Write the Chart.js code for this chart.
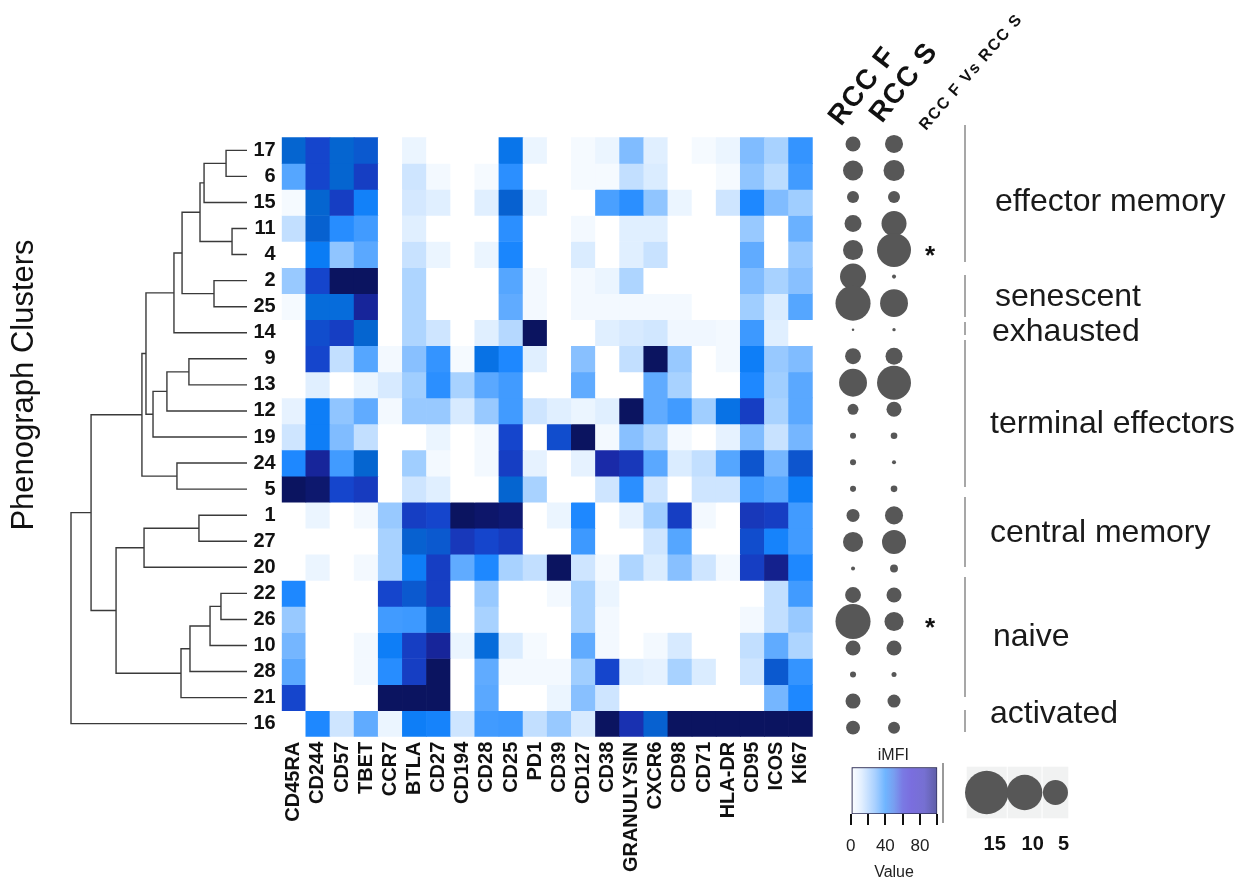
<!DOCTYPE html>
<html><head><meta charset="utf-8">
<script src="https://cdn.jsdelivr.net/npm/chart.js@4.4.1/dist/chart.umd.min.js"></script>
<style>
html,body{margin:0;padding:0;background:#fff;}
body{width:1248px;height:882px;position:relative;overflow:hidden;}
canvas{position:absolute;}
.vsep{position:absolute;width:1.5px;background:#9a9a9a;}
</style></head>
<body>
<canvas id="dend" width="260" height="882" style="left:0;top:0"></canvas>
<canvas id="heat" width="600" height="882" style="left:230px;top:0"></canvas>
<canvas id="bub" width="433" height="882" style="left:815px;top:0"></canvas>
<canvas id="cleg" width="115" height="137" style="left:835px;top:745px"></canvas>
<canvas id="sleg" width="145" height="137" style="left:945px;top:745px"></canvas>
<div class="vsep" style="left:942px;top:763px;height:60px"></div>
<script>
// ---------------- DATA ----------------
const markers = ['CD45RA','CD244','CD57','TBET','CCR7','BTLA','CD27','CD194','CD28','CD25','PD1','CD39','CD127','CD38','GRANULYSIN','CXCR6','CD98','CD71','HLA-DR','CD95','ICOS','KI67'];
const clusters = ['17','6','15','11','4','2','25','14','9','13','12','19','24','5','1','27','20','22','26','10','28','21','16'];

// iMFI per cluster, in marker order
const c17 = [72,80,72,75,0,8,0,0,0,67,8,0,4,8,40,12,0,4,8,40,30,55];
const c6  = [48,80,72,82,0,18,5,0,4,57,0,0,4,4,22,14,0,0,4,36,24,52];
const c15 = [4,72,82,63,0,16,12,0,12,73,8,0,0,50,57,36,8,0,18,60,40,32];
const c11 = [22,73,58,52,0,12,0,0,0,57,0,0,5,0,12,12,0,0,0,34,0,44];
const c4  = [0,65,36,47,0,20,8,0,8,61,0,0,14,0,12,20,0,0,0,46,0,34];
const c2  = [34,80,100,100,0,28,0,0,0,48,5,0,5,8,28,0,0,0,0,40,30,38];
const c25 = [4,70,70,90,0,28,0,0,0,46,5,0,5,5,5,5,5,0,0,32,14,48];
const c14 = [0,78,82,72,0,28,18,0,12,26,100,0,0,12,15,17,6,6,5,53,12,0];
const c9  = [0,80,22,48,5,38,55,4,68,60,12,0,38,0,22,100,34,0,5,64,34,40];
const c13 = [0,12,0,8,15,32,57,30,47,52,0,0,46,0,0,46,30,0,0,60,32,47];
const c12 = [10,64,36,46,5,34,34,15,34,52,18,12,8,12,100,46,52,32,68,82,30,47];
const c19 = [18,64,40,22,0,0,8,0,5,80,0,78,100,5,38,28,5,0,10,40,20,42];
const c24 = [60,90,52,72,0,32,5,0,5,82,10,0,10,88,84,47,14,22,48,76,42,76];
const c5  = [100,97,80,83,0,18,12,0,0,72,30,0,0,18,57,18,0,18,18,52,48,64];
const c1  = [0,8,0,5,34,82,80,100,98,96,0,8,60,0,10,32,82,5,0,84,82,52];
const c27 = [0,0,0,0,30,73,75,84,80,83,0,0,53,0,0,18,48,0,0,78,62,52];
const c20 = [0,8,0,5,30,64,82,46,60,30,22,100,18,5,28,14,38,18,5,82,92,60];
const c22 = [60,0,0,0,80,75,82,0,34,0,0,5,30,8,0,0,0,0,0,0,22,52];
const c26 = [34,0,0,0,52,53,73,0,30,0,0,0,30,5,0,0,0,0,0,5,22,34];
const c10 = [42,0,0,5,64,82,90,8,70,14,4,0,46,5,0,5,15,0,0,22,46,28];
const c28 = [47,0,0,5,58,82,100,0,46,5,5,5,32,80,12,10,30,14,0,18,75,55];
const c21 = [80,0,0,0,100,100,100,0,47,0,0,8,38,18,0,0,0,0,0,0,42,60];
const c16 = [0,60,18,46,8,64,62,18,52,53,22,34,15,100,86,73,100,100,100,100,100,100];
const heatRows = [c17,c6,c15,c11,c4,c2,c25,c14,c9,c13,c12,c19,c24,c5,c1,c27,c20,c22,c26,c10,c28,c21,c16];

// cluster frequency (bubble size) per cluster, same order
const rccF = [1.8,3.2,1.15,2.3,3.2,5.4,9.8,0.05,2.0,6.2,0.95,0.29,0.29,0.29,1.35,3.2,0.13,2.0,9.8,1.8,0.29,1.8,1.55];
const rccS = [2.6,3.5,1.15,5.0,9.2,0.13,6.2,0.09,2.3,9.2,1.8,0.35,0.13,0.35,2.6,4.6,0.5,1.8,2.9,1.8,0.2,1.35,1.15];
const significant = ['4','26'];
const sizeLegend = [15,10,5];
const bubbleCols = ['RCC F','RCC S','RCC F Vs RCC S'];

// dendrogram merges: [left, right, height]; 'mK' = result of merge K
const merges = [
  ['17','6',0.119],['m0','15',0.244],['11','4',0.085],['m1','m2',0.267],
  ['2','25',0.1875],['m3','m4',0.369],['m5','14',0.415],
  ['9','13',0.330],['m7','12',0.455],['m8','19',0.534],['m6','m9',0.574],
  ['24','5',0.398],['m10','m11',0.597],
  ['1','27',0.273],['m13','20',0.585],
  ['22','26',0.148],['m15','10',0.210],['m16','28',0.324],['m17','21',0.375],
  ['m14','m18',0.744],['m12','m19',0.886],['m20','16',1.0]
];

const groupNames = ['effector memory','senescent','exhausted','terminal effectors','central memory','naive','activated'];
const legendTickValues = [0,20,40,60,80,100];

// ---------------- STYLE ----------------
const FONT = '"Liberation Sans", Arial, Helvetica, sans-serif';
Chart.defaults.font.family = FONT;
Chart.defaults.color = '#111';
const heatStops = [[0,'#ffffff'],[10,'#e6f2ff'],[20,'#c8e2ff'],[30,'#a8d2ff'],[40,'#80bcff'],[50,'#4aa0ff'],[60,'#1e88ff'],[65,'#0a7cf5'],[72,'#0565d0'],[80,'#1545cc'],[88,'#1a2aa8'],[95,'#0f1a78'],[100,'#0b1460']];
const legendStops = [[0,'#ffffff'],[0.12,'#e4f0ff'],[0.28,'#a9d0ff'],[0.4,'#6fb5ff'],[0.5,'#789ef0'],[0.6,'#7a7ae4'],[0.7,'#7a6ede'],[0.85,'#7670d2'],[1,'#5e5ea6']];
const K = 5.6; // bubble radius = K*sqrt(value)
const groupLayout = [[995,210.5],[995,305.5],[992,341],[990,433],[990,541.7],[993,646],[990,722.5]];
const sepLayout = [[125,262],[275,317],[322,335],[340,487],[497,567],[577,697],[710,732]];

function hex(c){return [parseInt(c.slice(1,3),16),parseInt(c.slice(3,5),16),parseInt(c.slice(5,7),16)];}
function heatColor(v){
  for(let i=1;i<heatStops.length;i++){
    if(v<=heatStops[i][0]){
      const [v0,c0]=heatStops[i-1],[v1,c1]=heatStops[i];
      const t=(v-v0)/(v1-v0), a=hex(c0), b=hex(c1);
      return 'rgb('+a.map((x,k)=>Math.round(x+(b[k]-x)*t)).join(',')+')';
    }
  }
  return heatStops[heatStops.length-1][1];
}
const base = {responsive:false, animation:false, devicePixelRatio:1, events:[]};
const noPlug = {legend:{display:false}, tooltip:{enabled:false}};

// ---------------- HEATMAP ----------------
new Chart(document.getElementById('heat'), {
  type:'bar',
  data:{labels:markers, datasets:heatRows.map((row,i)=>({label:clusters[i], data:markers.map(()=>1), backgroundColor:row.map(heatColor), borderWidth:0, barPercentage:1, categoryPercentage:1}))},
  options:Object.assign({}, base, {
    layout:{padding:{top:137.3,right:15,bottom:0,left:0}},
    plugins:noPlug,
    scales:{
      x:{stacked:true, grid:{display:false, drawTicks:false}, border:{display:false},
         ticks:{autoSkip:false, minRotation:90, maxRotation:90, padding:5, color:'#111', font:{size:20, weight:'bold'}},
         afterFit:(s)=>{s.height=145.3;}},
      y:{stacked:true, min:0, max:clusters.length, reverse:true, grid:{display:false, drawTicks:false}, border:{display:false},
         afterBuildTicks:(s)=>{s.ticks=clusters.map((c,i)=>({value:i+0.5}));},
         ticks:{autoSkip:false, padding:6, color:'#111', font:{size:20, weight:'bold'}, callback:(v,i)=>clusters[i]},
         afterFit:(s)=>{s.width=51.7;}}
    }
  })
});

// ---------------- DENDROGRAM ----------------
function dendroSegments(){
  const pos={};
  clusters.forEach((c,i)=>{pos[c]={y:i+0.5,h:0};});
  const segs=[];
  merges.forEach((m,k)=>{
    const a=pos[m[0]], b=pos[m[1]], h=m[2];
    segs.push([{x:a.h,y:a.y},{x:h,y:a.y},{x:h,y:b.y},{x:b.h,y:b.y}]);
    pos['m'+k]={y:(a.y+b.y)/2,h:h};
  });
  return segs;
}
new Chart(document.getElementById('dend'), {
  type:'line',
  data:{datasets:dendroSegments().map(s=>({data:s, borderColor:'#3a3a3a', borderWidth:1.4, pointRadius:0, tension:0, clip:false, fill:false}))},
  options:Object.assign({}, base, {
    layout:{padding:{top:137.3,bottom:145.3,left:71,right:13}},
    plugins:noPlug,
    scales:{x:{type:'linear',min:0,max:1,reverse:true,display:false}, y:{type:'linear',min:0,max:clusters.length,reverse:true,display:false}}
  }),
  plugins:[{id:'ytitle', afterDraw(chart){
    const c=chart.ctx; c.save(); c.translate(33,385); c.rotate(-Math.PI/2);
    c.font='31px '+FONT; c.fillStyle='#111'; c.textAlign='center'; c.textBaseline='alphabetic';
    c.fillText('Phenograph Clusters',0,0); c.restore();
  }}]
});

// ---------------- BUBBLES ----------------
const OX = 815;
new Chart(document.getElementById('bub'), {
  type:'bubble',
  data:{datasets:[
    {data:rccF.map((v,i)=>({x:bubbleCols[0], y:i+0.5, r:K*Math.sqrt(v)})), backgroundColor:'#575757', borderWidth:0, hoverRadius:0, clip:false},
    {data:rccS.map((v,i)=>({x:bubbleCols[1], y:i+0.5, r:K*Math.sqrt(v)})), backgroundColor:'#575757', borderWidth:0, hoverRadius:0, clip:false}
  ]},
  options:Object.assign({}, base, {
    layout:{padding:{top:130.7,bottom:141.1,left:5.5,right:292.5}},
    plugins:noPlug,
    scales:{x:{type:'category', labels:bubbleCols, offset:true, display:false}, y:{type:'linear', min:0, max:clusters.length, reverse:true, display:false}}
  }),
  plugins:[{id:'annot', afterDraw(chart){
    const c=chart.ctx, xs=chart.scales.x, ys=chart.scales.y;
    c.save();
    // column headers
    const hdr=[{size:28,ls:1,dx:-12,y:127,a:52},{size:28,ls:1,dx:-12,y:124,a:52},{size:16,ls:1.5,dx:-9,y:131,a:49}];
    bubbleCols.forEach((t,i)=>{
      const h=hdr[i]; c.save();
      c.translate(xs.getPixelForValue(i)+h.dx, h.y); c.rotate(-h.a*Math.PI/180);
      c.font='bold '+h.size+'px '+FONT; c.letterSpacing=h.ls+'px'; c.fillStyle='#111';
      c.textAlign='left'; c.textBaseline='alphabetic'; c.fillText(t,0,0); c.restore();
    });
    // significance asterisks
    c.font='bold 26px '+FONT; c.fillStyle='#111'; c.textAlign='center'; c.textBaseline='alphabetic';
    significant.forEach(s=>{
      const i=clusters.indexOf(s);
      c.fillText('*', xs.getPixelForValue(2)-5, ys.getPixelForValue(i+0.5)+14);
    });
    // group separators and names
    c.strokeStyle='#8a8a8a'; c.lineWidth=1.5;
    sepLayout.forEach(([a,b])=>{c.beginPath(); c.moveTo(965-OX,a); c.lineTo(965-OX,b); c.stroke();});
    c.font='32px '+FONT; c.fillStyle='#1a1a1a'; c.textAlign='left';
    groupNames.forEach((g,i)=>{c.fillText(g, groupLayout[i][0]-OX, groupLayout[i][1]);});
    c.restore();
  }}]
});

// ---------------- COLOUR LEGEND ----------------
new Chart(document.getElementById('cleg'), {
  type:'bar',
  data:{labels:['iMFI'], datasets:[{data:[[0,100]], borderColor:'#2d2d55', borderWidth:1.2, borderSkipped:false, barPercentage:1, categoryPercentage:1,
    backgroundColor:(ctx)=>{const ca=ctx.chart.chartArea; if(!ca) return '#fff';
      const g=ctx.chart.ctx.createLinearGradient(ca.left,0,ca.right,0); legendStops.forEach(s=>g.addColorStop(s[0],s[1])); return g;}}]},
  options:Object.assign({}, base, {
    indexAxis:'y',
    layout:{padding:{top:1.1,left:14.3,right:12.7,bottom:0}},
    plugins:{legend:{display:false}, tooltip:{enabled:false}, title:{display:true, text:'iMFI', color:'#222', font:{size:16, weight:'normal'}, padding:{top:0,bottom:2}}},
    scales:{
      y:{display:false},
      x:{type:'linear', min:0, max:100,
         afterBuildTicks:(s)=>{s.ticks=legendTickValues.map(v=>({value:v}));},
         grid:{drawOnChartArea:false, drawTicks:true, tickLength:11, color:'#111', lineWidth:2}, border:{display:false},
         ticks:{autoSkip:false, minRotation:0, maxRotation:0, padding:11, color:'#222', font:{size:17}, callback:(v)=>(v%40===0?String(v):'')},
         title:{display:true, text:'Value', color:'#222', font:{size:16}, padding:{top:0,bottom:0}},
         afterFit:(s)=>{s.height=68;}}
    }
  })
});

// ---------------- SIZE LEGEND ----------------
const legR = sizeLegend.map(s=>K*Math.sqrt(s));
const boxes=[]; let acc=0;
legR.forEach((r,i)=>{const w=2*r+8; boxes.push([acc,acc+w]); acc+=w+(i<legR.length-1?1.3:0);});
const legCenters = boxes.map(b=>(b[0]+b[1])/2);
new Chart(document.getElementById('sleg'), {
  type:'bubble',
  data:{datasets:[{data:sizeLegend.map((s,i)=>({x:legCenters[i], y:0.5, r:legR[i]})), backgroundColor:'#575757', borderWidth:0, hoverRadius:0, clip:false}]},
  options:Object.assign({}, base, {
    layout:{padding:{top:21.7,left:4.3,right:145-4.3-acc,bottom:0}},
    plugins:noPlug,
    scales:{
      y:{type:'linear',min:0,max:1,display:false},
      x:{type:'linear',min:0,max:acc, grid:{display:false, drawTicks:false}, border:{display:false},
         afterBuildTicks:(s)=>{s.ticks=legCenters.map(v=>({value:v}));},
         ticks:{autoSkip:false, minRotation:0, maxRotation:0, padding:13.7, labelOffset:8, color:'#111', font:{size:20, weight:'bold'}, callback:(v,i)=>String(sizeLegend[i])},
         afterFit:(s)=>{s.height=63.7;}}
    }
  }),
  plugins:[{id:'boxes', beforeDatasetsDraw(chart){
    const c=chart.ctx, xs=chart.scales.x, ca=chart.chartArea; c.save(); c.fillStyle='#f1f2f2';
    boxes.forEach(b=>{const x0=xs.getPixelForValue(b[0]), x1=xs.getPixelForValue(b[1]); c.fillRect(x0,ca.top,x1-x0,ca.bottom-ca.top);});
    c.restore();
  }}]
});
</script>
</body></html>
